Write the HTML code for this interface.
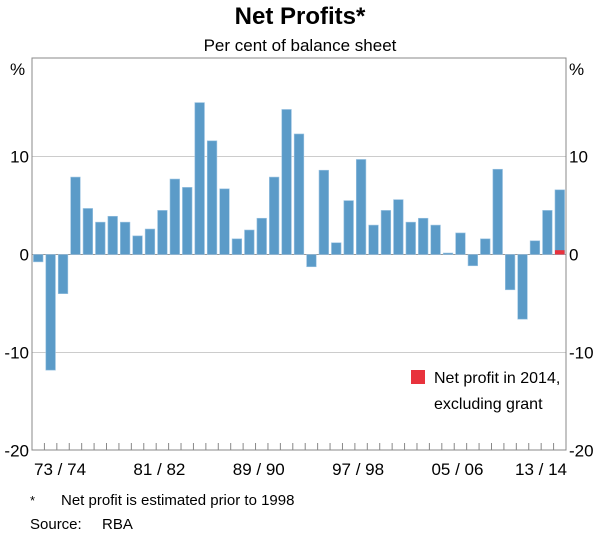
<!DOCTYPE html>
<html><head><meta charset="utf-8"><style>
body{margin:0;background:#fff;}
svg{display:block;font-family:"Liberation Sans",Arial,sans-serif;}
</style></head><body>
<svg id="c" width="600" height="537">
<text x="300" y="24" text-anchor="middle" font-size="24" font-weight="bold" fill="#000">Net Profits*</text>
<text x="300" y="51" text-anchor="middle" font-size="17" fill="#000">Per cent of balance sheet</text>
<g id="grid"></g>
<g id="bars"></g>
<rect x="32" y="58" width="534" height="392" fill="none" stroke="#888" stroke-width="1"/>
<g id="axes"></g>
<rect x="411" y="370" width="14" height="14" fill="#e8323c"/>
<text x="434" y="383" font-size="16">Net profit in 2014,</text>
<text x="434" y="409" font-size="16">excluding grant</text>
<text x="30" y="505" font-size="13">*</text>
<text x="61" y="505" font-size="15">Net profit is estimated prior to 1998</text>
<text x="30" y="529" font-size="15">Source:</text>
<text x="102" y="529" font-size="15">RBA</text>
</svg>
<script>
const years = [];
for (let y = 1971; y <= 2013; y++) years.push(y);
const values = [-0.75,-11.8,-4.0,7.9,4.7,3.3,3.9,3.3,1.9,2.6,4.5,7.7,6.85,15.5,11.6,6.7,1.6,2.5,3.7,7.9,14.8,12.3,-1.25,8.6,1.2,5.5,9.7,3.0,4.5,5.6,3.3,3.7,3.0,0.15,2.2,-1.15,1.6,8.7,-3.6,-6.6,1.4,4.5,6.6];
const exGrant = [0.44];
const yTicks = [-20,-10,0,10];
const xLabels = ["73/74","81/82","89/90","97/98","05/06","13/14"];
const xLabelIdx = [2,10,18,26,34,42];

const NS = "http://www.w3.org/2000/svg";
const L = 32, R = 566, T = 58, B = 450;
const pitch = (R - L) / values.length;
const yS = v => 254.5 - v * 9.8;
const xS = i => L + i * pitch;
function mk(tag, attrs, parent) {
  const e = document.createElementNS(NS, tag);
  for (const k in attrs) e.setAttribute(k, attrs[k]);
  document.getElementById(parent).appendChild(e);
  return e;
}
yTicks.forEach(t => {
  const y = yS(t);
  if (t !== -20 && t !== 0) {
    const g = mk("line", {x1: L, x2: R, y1: y, y2: y, stroke: "#ccc", "stroke-width": 1}, "grid");
    
    
  }
  const a = mk("text", {x: 29, y: y + 6, "text-anchor": "end", "font-size": 17}, "axes");
  a.textContent = t;
  
  
  const b = mk("text", {x: 569, y: y + 6, "font-size": 17}, "axes");
  b.textContent = t;
  
  
});
const p1 = mk("text", {x: 10, y: 75, "font-size": 17}, "axes"); p1.textContent = "%";


const p2 = mk("text", {x: 569, y: 75, "font-size": 17}, "axes"); p2.textContent = "%";



values.forEach((v, i) => {
  const x = xS(i) + 1.4, w = pitch - 2.8;
  const y0 = yS(0), y1 = yS(v);
  const r = mk("rect", {x: x, y: Math.min(y0, y1), width: w, height: Math.abs(y1 - y0), fill: "#5b9bc8", stroke: "#9cc4e2", "stroke-width": 0.6}, "bars");
  
  
});
exGrant.forEach(v => {
  const i = values.length - 1;
  const r = mk("rect", {x: xS(i) + 1.4, y: yS(v), width: pitch - 2.8, height: yS(0) - yS(v), fill: "#e8323c"}, "bars");
  
  
});
const z = mk("line", {x1: L, x2: R, y1: yS(0), y2: yS(0), stroke: "#999", "stroke-width": 1}, "grid");


for (let i = 1; i < values.length; i++) {
  const t = mk("line", {x1: xS(i), x2: xS(i), y1: B, y2: B - 7, stroke: "#888", "stroke-width": 1}, "axes");
  
  
}
xLabels.forEach((s, k) => {
  let cx = xS(xLabelIdx[k]) + pitch / 2 - 3;
  if (k === xLabels.length - 1) cx = 541;
  const t = mk("text", {x: cx, y: 475, "text-anchor": "middle", "font-size": 17}, "axes");
  t.textContent = s.replace("/", " / ");
  
  
});
</script>
</body></html>
